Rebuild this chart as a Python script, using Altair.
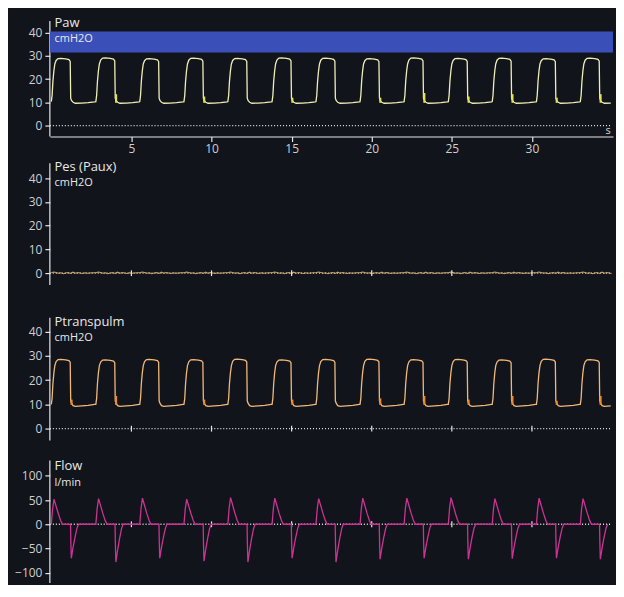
import altair as alt
import pandas as pd

BG = "#12141b"
FONT = "Open Sans"

# breath onsets (s)
onsets = [0.0, 2.78, 5.52, 8.28, 11.02, 13.78, 16.52, 19.27, 22.02, 24.78, 27.52, 30.28, 33.02]

# one breath of Paw (s after onset, cmH2O)
paw_t = [0.00, 0.05, 0.10, 0.16, 0.22, 0.30, 0.42, 0.60, 0.90, 1.10, 1.18, 1.21, 1.26, 1.36, 1.50, 1.90, 2.30, 2.70]
paw_v = [10.3, 13.0, 19.0, 23.5, 26.5, 28.0, 28.8, 28.9, 28.7, 28.4, 27.6, 11.8, 10.8, 10.0, 9.6, 9.7, 9.9, 10.2]
paw_plateau_shift = [0.0, 0.2, -0.1, 0.1, 0.0, 0.2, 0.1, -0.1, 0.2, 0.0, 0.1, -0.1, 0.1]
paw_fill_top = [0, 13.5, 0, 12.5, 0, 12.0, 0, 12.0, 14.0, 12.5, 13.5, 12.0, 13.5]

# Ptranspulm breath
ptp_t = [0.00, 0.05, 0.10, 0.16, 0.22, 0.30, 0.42, 0.60, 0.90, 1.10, 1.18, 1.21, 1.26, 1.36, 1.50, 1.90, 2.30, 2.70]
ptp_v = [10.0, 12.5, 18.5, 23.0, 26.0, 27.6, 28.4, 28.5, 28.3, 28.0, 27.3, 11.5, 10.5, 9.5, 9.2, 9.4, 9.6, 10.0]
ptp_fill_top = [12.0, 13.5, 0, 12.0, 0, 12.0, 0, 12.5, 13.5, 12.0, 13.5, 11.5, 13.5]

# Pes (Paux) stays near zero
pes_t = [0.00, 0.15, 0.30, 0.45, 0.60, 0.75, 0.90, 1.05, 1.20, 1.35, 1.50, 1.65, 1.80, 1.95, 2.10, 2.25, 2.40, 2.55]
pes_v = [0.2, 0.5, 0.3, 0.0, 0.2, -0.2, 0.1, 0.3, -0.1, 0.4, 0.0, 0.3, 0.1, -0.1, 0.2, 0.0, 0.1, 0.2]

# Flow breath (l/min)
flow_t = [0.00, 0.08, 0.17, 0.30, 0.44, 0.58, 0.70, 1.20, 1.22, 1.25, 1.36, 1.48, 1.60, 1.70, 2.70]
flow_v = [0, 32, 53, 38, 22, 8, 0, 0, -40, -74, -50, -28, -9, 0, 0]
flow_peak = [52, 53, 54, 52, 55, 54, 53, 54, 54, 55, 53, 54, 53]
flow_min = [-70, -78, -70, -76, -78, -70, -78, -72, -70, -72, -71, -70, -72]

XMIN, XMAX = -0.09, 35.06
x_ticks = [5, 10, 15, 20, 25, 30]
p_ticks = [0, 10, 20, 30, 40]
f_ticks = [-100, -50, 0, 50, 100]


def build(tmpl_t, tmpl_v, fn=None):
    rows = []
    for i, o in enumerate(onsets):
        for dt, v in zip(tmpl_t, tmpl_v):
            t = o + dt
            if t > 35.0:
                continue
            rows.append({"t": t, "v": fn(i, v) if fn else v})
    return pd.DataFrame(rows)


paw_df = build(paw_t, paw_v, lambda i, v: v + paw_plateau_shift[i] if v > 27 else v)
ptp_df = build(ptp_t, ptp_v, lambda i, v: v + paw_plateau_shift[-1 - i] if v > 27 else v)
pes_df = build(pes_t, pes_v)
flow_df = build(flow_t, flow_v, lambda i, v: v * flow_peak[i] / 53 if v > 0 else v * flow_min[i] / -74)


def fills(tops):
    return pd.DataFrame([{"t": o + 1.20, "t2": o + 1.33, "y": 9.8, "y2": h}
                         for o, h in zip(onsets, tops) if h > 0 and o + 1.33 < 35])


xs = alt.Scale(domain=[XMIN, XMAX], nice=False, zero=False)
X_NOAX = alt.X("t:Q", scale=xs, axis=None)
X_AX = alt.X("t:Q", scale=xs, axis=alt.Axis(values=x_ticks, title=None, grid=False, tickSize=5,
                                             labelPadding=2, format="d", labelOverlap=False))


def Y(field, lo, hi, vals):
    return alt.Y(field, scale=alt.Scale(domain=[lo, hi], nice=False, zero=False),
                 axis=alt.Axis(values=vals, title=None, grid=False, tickSize=5, labelPadding=3,
                               domain=False, labelOverlap=False))


def axis_line(X, Yf, lo, hi):
    return alt.Chart(pd.DataFrame({"t": [XMIN], "v": [lo], "v2": [hi]})).mark_rule(
        color="#e6e6e6", strokeWidth=1.2
    ).encode(x=X, y=Yf("v:Q"), y2="v2:Q")


def zero_line(X, Yf):
    return alt.Chart(pd.DataFrame({"t": [XMIN], "t2": [34.95], "v": [0]})).mark_rule(
        color="#e6e6e6", strokeDash=[1, 2], strokeWidth=1.3
    ).encode(x=X, x2="t2:Q", y=Yf("v:Q"))


def zero_ticks(X, Yf, half):
    return alt.Chart(pd.DataFrame({"t": x_ticks, "v": [-half] * 6, "v2": [half] * 6})).mark_rule(
        color="#e6e6e6", strokeWidth=1.2
    ).encode(x=X, y=Yf("v:Q"), y2="v2:Q")


def labels(X, Yf, name, unit, y1, y2):
    df = pd.DataFrame({"t": [0.2, 0.2], "v": [y1, y2], "s": [name, unit], "f": [13, 11]})
    return alt.Chart(df).mark_text(align="left", baseline="middle", color="#e8e8e8", font=FONT).encode(
        x=X, y=Yf("v:Q"), text="s:N",
        size=alt.Size("f:Q", scale=None, legend=None))


def rects(df, X, Yf, color):
    return alt.Chart(df).mark_rect(color=color).encode(x=X, x2="t2:Q", y=Yf("y:Q"), y2="y2:Q")


W = 565

# ---------- Panel 1: Paw ----------
Y1 = lambda f: Y(f, -4.7, 45, p_ticks)
band = rects(pd.DataFrame({"t": [XMIN], "t2": [XMAX], "y": [31.4], "y2": [40.4]}), X_AX, Y1, "#3a50b8")
paw_line = alt.Chart(paw_df).mark_line(color="#eeeeb4", strokeWidth=1.3).encode(x=X_AX, y=Y1("v:Q"))
paw_fill = rects(fills(paw_fill_top), X_AX, Y1, "#e2e25a")
s_lab = alt.Chart(pd.DataFrame({"t": [34.75], "v": [-2.2], "s": ["s"]})).mark_text(
    color="#d8d8d8", font=FONT, fontSize=11, baseline="middle").encode(x=X_AX, y=Y1("v:Q"), text="s:N")
p1 = alt.layer(axis_line(X_AX, Y1, -4.7, 45), band, zero_line(X_AX, Y1), paw_line, paw_fill,
               labels(X_AX, Y1, "Paw", "cmH2O", 44.2, 37.4), s_lab).properties(width=W, height=116)

# ---------- Panel 2: Pes ----------
Y2 = lambda f: Y(f, -10, 57.5, p_ticks)
pes_line = alt.Chart(pes_df).mark_line(color="#c9a066", strokeWidth=1.2).encode(x=X_NOAX, y=Y2("v:Q"))
p2 = alt.layer(axis_line(X_NOAX, Y2, -5, 46.25), zero_line(X_NOAX, Y2), pes_line, zero_ticks(X_NOAX, Y2, 1.2),
               labels(X_NOAX, Y2, "Pes (Paux)", "cmH2O", 44.6, 37.9)).properties(width=W, height=161)

# ---------- Panel 3: Ptranspulm ----------
Y3 = lambda f: Y(f, -6.94, 54.3, p_ticks)
ptp_line = alt.Chart(ptp_df).mark_line(color="#f0b878", strokeWidth=1.3).encode(x=X_NOAX, y=Y3("v:Q"))
ptp_fill = rects(fills(ptp_fill_top), X_NOAX, Y3, "#f08a28")
p3 = alt.layer(axis_line(X_NOAX, Y3, -4.9, 45.7), zero_line(X_NOAX, Y3), zero_ticks(X_NOAX, Y3, 1.2),
               ptp_line, ptp_fill,
               labels(X_NOAX, Y3, "Ptranspulm", "cmH2O", 43.8, 37.2)).properties(width=W, height=149)

# ---------- Panel 4: Flow ----------
Y4 = lambda f: Y(f, -121.4, 162.6, f_ticks)
flow_line = alt.Chart(flow_df).mark_line(color="#cc3296", strokeWidth=1.3).encode(x=X_NOAX, y=Y4("v:Q"))
p4 = alt.layer(axis_line(X_NOAX, Y4, -121.4, 131.7), zero_line(X_NOAX, Y4), zero_ticks(X_NOAX, Y4, 6), flow_line,
               labels(X_NOAX, Y4, "Flow", "l/min", 120.5, 86)).properties(width=W, height=138)

chart = alt.vconcat(p1, p2, p3, p4, spacing=0, bounds="flush").properties(
    padding={"left": 6, "top": 7, "right": 2, "bottom": 0},
    background=BG,
).configure_view(stroke=None).configure_axis(
    domainColor="#e6e6e6", tickColor="#e6e6e6", labelColor="#cfcfcf",
    labelFont=FONT, labelFontSize=12, domainWidth=1.2, tickWidth=1.2, labelOverlap=False
)

chart.save("out.html", embed_options={"renderer": "svg", "actions": False})
